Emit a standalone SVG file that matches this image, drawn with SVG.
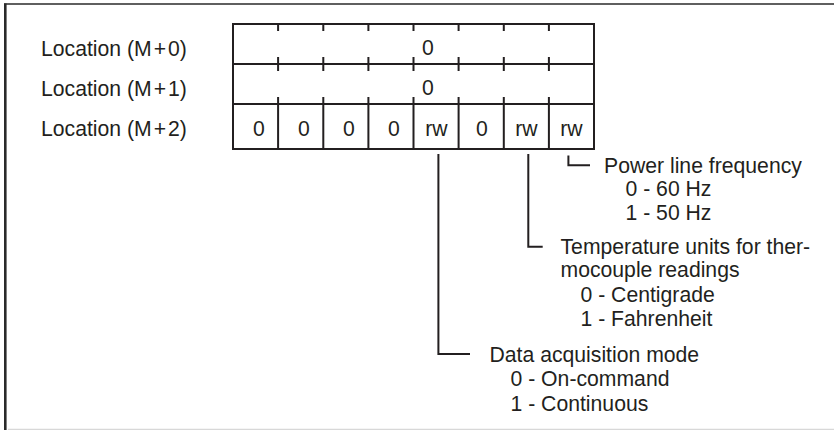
<svg xmlns="http://www.w3.org/2000/svg" width="834" height="430" viewBox="0 0 834 430">
<style>
text{font-family:"Liberation Sans",Arial,sans-serif;font-size:21.2px;fill:#231f20}
.c{text-anchor:middle}
.ln{stroke:#231f20;stroke-width:2;fill:none;stroke-linecap:square}
</style>
<rect width="834" height="430" fill="#fff"/>
<g id="frame">
<line x1="4" y1="4" x2="834" y2="4" stroke="#2a2a2a" stroke-width="1.6"/>
<line x1="5.3" y1="3.5" x2="5.3" y2="430" stroke="#2a2a2a" stroke-width="2.6"/>
<line x1="8" y1="429.3" x2="834" y2="429.3" stroke="#d8d8d8" stroke-width="1.2"/>
</g>
<g id="labels">
<text x="41" y="56">Location (M<tspan dx="2">+</tspan><tspan dx="2">0)</tspan></text>
<text x="41" y="96">Location (M<tspan dx="2">+</tspan><tspan dx="2">1)</tspan></text>
<text x="41" y="136">Location (M<tspan dx="2">+</tspan><tspan dx="2">2)</tspan></text>
</g>
<g id="register">
<rect class="ln" x="233" y="24" width="361" height="125"/>
<line class="ln" x1="233" y1="64" x2="594" y2="64"/>
<line class="ln" x1="233" y1="104" x2="594" y2="104"/>
<path class="ln" stroke-linecap="butt" d="M278.1 24v6M323.3 24v6M368.4 24v6M413.5 24v6M458.6 24v6M503.8 24v6M548.9 24v6
M278.1 58v12M323.3 58v12M368.4 58v12M413.5 58v12M458.6 58v12M503.8 58v12M548.9 58v12
M278.1 98v51M323.3 98v51M368.4 98v51M413.5 98v51M458.6 98v51M503.8 98v51M548.9 98v51"/>
<text x="428" y="55" class="c">0</text>
<text x="428" y="95" class="c">0</text>
<text x="259" y="136" class="c">0</text>
<text x="304" y="136" class="c">0</text>
<text x="349" y="136" class="c">0</text>
<text x="394" y="136" class="c">0</text>
<text x="436.5" y="136" class="c">rw</text>
<text x="482" y="136" class="c">0</text>
<text x="526.5" y="136" class="c">rw</text>
<text x="571.5" y="136" class="c">rw</text>
</g>
<g id="connectors">
<path class="ln" stroke-linecap="butt" d="M568.4 156.5V165.3H589"/>
<path class="ln" stroke-linecap="butt" d="M528.3 155V246.7H541.7"/>
<path class="ln" stroke-linecap="butt" d="M438.4 155V354H469"/>
</g>
<g id="power">
<text x="604" y="172.5">Power line frequency</text>
<text x="625.5" y="195.5">0 - 60 Hz</text>
<text x="625.5" y="220">1 - 50 Hz</text>
</g>
<g id="temperature">
<text x="560.5" y="253.5">Temperature units for ther-</text>
<text x="560.5" y="277">mocouple readings</text>
<text x="580.5" y="301.5">0 - Centigrade</text>
<text x="580.5" y="326">1 - Fahrenheit</text>
</g>
<g id="daq">
<text x="489.5" y="361.5">Data acquisition mode</text>
<text x="510.5" y="386">0 - On-command</text>
<text x="510.5" y="410.5">1 - Continuous</text>
</g>
</svg>
